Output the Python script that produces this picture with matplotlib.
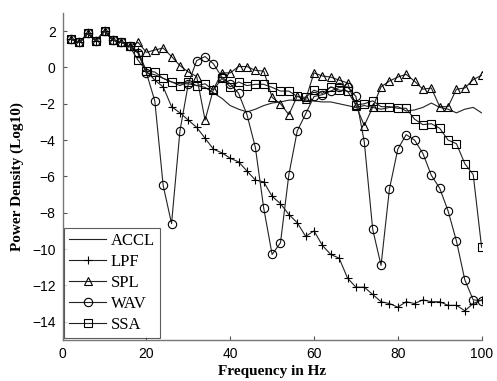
import numpy as np
import matplotlib
matplotlib.use("Agg")
import matplotlib.pyplot as plt

# frequency axis (Hz)
freq = np.arange(2, 101, 2)

# shared low-frequency part (2..16 Hz)
common = [1.56, 1.38, 1.87, 1.47, 2.0, 1.5, 1.4, 1.16]

accl = common + [0.8, -0.3, -0.4, -0.6, -0.8, -0.9, -0.9, -1.0, -1.1, -1.4,
                 -1.7, -2.1, -2.3, -2.45, -2.3, -2.1, -1.96, -1.9, -1.8, -1.8,
                 -1.8, -1.85, -1.9, -1.9, -2.0, -2.1, -2.2, -2.1, -2.2, -2.3,
                 -2.2, -2.16, -2.4, -2.34, -2.2, -1.96, -2.2, -2.3, -2.5, -2.3,
                 -2.2, -2.5]

lpf = common + [0.9, -0.2, -0.7, -1.07, -2.16, -2.5, -2.9, -3.3, -3.9, -4.5,
                -4.7, -5.0, -5.2, -5.7, -6.2, -6.3, -7.1, -7.5, -8.1, -8.55,
                -9.3, -9.0, -9.8, -10.3, -10.5, -11.6, -12.1, -12.1, -12.5, -12.9,
                -13.0, -13.2, -12.9, -13.0, -12.8, -12.9, -12.9, -13.1, -13.1, -13.4,
                -13.0, -12.8]

spl = common + [1.38, 0.83, 0.96, 1.07, 0.6, 0.1, -0.25, -0.5, -2.9, -1.2,
                -0.3, -0.3, 0.05, 0.05, -0.16, -0.2, -1.65, -2.0, -2.6, -1.58,
                -1.76, -0.3, -0.47, -0.53, -0.7, -0.85, -2.1, -3.2, -2.2, -1.07,
                -0.75, -0.53, -0.38, -0.76, -1.2, -1.13, -2.16, -2.16, -1.2, -1.13,
                -0.67, -0.43]

wav = common + [0.8, -0.3, -1.84, -6.5, -8.6, -3.5, -0.9, 0.38, 0.6, 0.2,
                -0.53, -0.9, -1.43, -2.6, -4.4, -7.75, -10.3, -9.65, -5.9, -3.5,
                -2.56, -1.6, -1.5, -1.3, -1.1, -1.07, -1.6, -4.1, -8.9, -10.9,
                -6.7, -4.5, -3.7, -4.0, -4.74, -5.94, -6.65, -7.9, -9.56, -11.7,
                -12.8, -12.84]

ssa = common + [0.4, -0.2, -0.25, -0.6, -0.8, -1.0, -0.8, -1.0, -0.9, -1.25,
                -0.6, -1.07, -0.8, -1.0, -0.93, -0.93, -1.1, -1.3, -1.3, -1.6,
                -1.65, -1.25, -1.43, -1.07, -1.25, -1.3, -2.07, -2.0, -1.84, -2.16,
                -2.16, -2.25, -2.25, -2.85, -3.15, -3.1, -3.35, -4.0, -4.2, -5.3,
                -5.9, -9.9]

series = [
	("ACCL", accl, "None"),
	("LPF", lpf, "+"),
	("SPL", spl, "^"),
	("WAV", wav, "o"),
	("SSA", ssa, "s"),
]

fig = plt.figure(figsize=(4.97, 3.81), dpi=100)
ax = fig.add_axes([0.126, 0.108, 0.843, 0.858])

for name, vals, mk in series:
	ax.plot(freq, vals, color="#222222", linewidth=0.8, marker=mk,
			markersize=6, markerfacecolor="none", markeredgecolor="black",
			markeredgewidth=0.8, label=name)

ax.set_xlim(0, 100)
ax.set_ylim(-15, 3)
ax.set_xticks([0, 20, 40, 60, 80, 100])
ax.set_yticks(np.arange(-14, 3, 2))

for s in ["top", "right"]:
	ax.spines[s].set_visible(False)
for s in ["left", "bottom"]:
	ax.spines[s].set_color("#777777")
	ax.spines[s].set_linewidth(1.0)

ax.tick_params(direction="in", length=3, width=0.8, color="#555555",
			   labelsize=10, pad=5)
for lbl in ax.get_xticklabels() + ax.get_yticklabels():
	lbl.set_family("Liberation Sans")

ax.set_xlabel("Frequency in Hz", fontsize=11, fontweight="bold",
			  family="Liberation Serif", labelpad=3)
ax.set_ylabel("Power Density (Log10)", fontsize=11, fontweight="bold",
			  family="Liberation Serif", labelpad=6)

leg = ax.legend(loc="lower left", prop={"family": "Liberation Serif", "size": 12},
				frameon=True, fancybox=False, handlelength=2.2,
				borderaxespad=0.1, labelspacing=0.3, handletextpad=0.3,
				borderpad=0.3)
leg.get_frame().set_edgecolor("#333333")
leg.get_frame().set_linewidth(0.8)

fig.savefig("out.png", dpi=100)
